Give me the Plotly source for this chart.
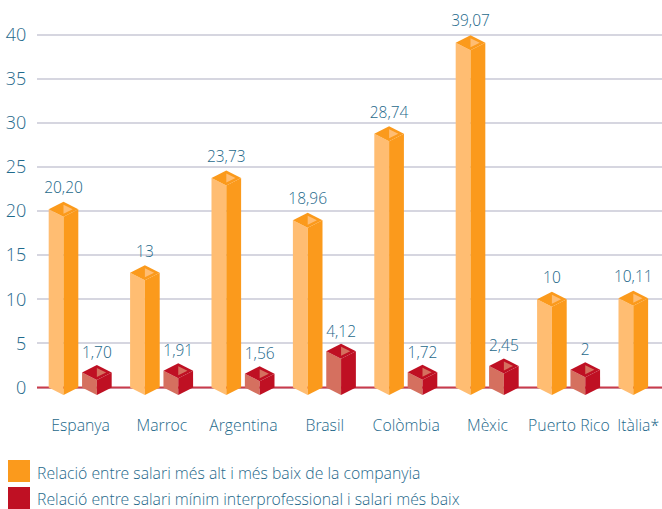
import plotly.graph_objects as go

categories = ["Espanya", "Marroc", "Argentina", "Brasil", "Colòmbia", "Mèxic", "Puerto Rico", "Itàlia*"]
company_ratio = [20.20, 13, 23.73, 18.96, 28.74, 39.07, 10, 10.11]
company_labels = ["20,20", "13", "23,73", "18,96", "28,74", "39,07", "10", "10,11"]
minimum_ratio = [1.70, 1.91, 1.56, 4.12, 1.72, 2.45, 2, None]
minimum_labels = ["1,70", "1,91", "1,56", "4,12", "1,72", "2,45", "2", ""]
y_ticks = [0, 5, 10, 15, 20, 25, 30, 35, 40]
legend_names = ["Relació entre salari més alt i més baix de la companyia",
                "Relació entre salari mínim interprofessional i salari més baix"]

W, H = 662, 509
TEXT = "#1f6a8c"
FONT = "Open Sans Light, Open Sans, sans-serif"
ORANGE, ORANGE_L = "#fb9a1c", "#ffbd72"
RED, RED_L = "#bf1023", "#d5705f"
HW, DEPTH = 0.182, 0.85      # half width (category units), iso depth (value units)
RED_SHIFT = 0.41
X_RANGE = [(37 - 63.5) / 81.4, (662 - 63.5) / 81.4]

fig = go.Figure()

# red baseline, above the grid and behind the bars
fig.add_trace(go.Scatter(x=X_RANGE, y=[0, 0], mode="lines", line=dict(color="#c93b4b", width=2),
                         hoverinfo="skip", showlegend=False))


def poly(xs, ys, color):
    fig.add_trace(go.Scatter(x=xs + xs[:1], y=ys + ys[:1], mode="lines", fill="toself",
                             fillcolor=color, line=dict(color=color, width=0),
                             hoverinfo="skip", showlegend=False))


def prism(cx, v, dark, light):
    poly([cx - HW, cx, cx, cx - HW], [v, v - DEPTH, -DEPTH, 0], light)
    poly([cx, cx + HW, cx + HW, cx], [v - DEPTH, v, 0, -DEPTH], dark)
    poly([cx - HW, cx, cx + HW, cx], [v, v + DEPTH, v, v - DEPTH], dark)
    poly([cx, cx + HW * 0.62, cx], [v + DEPTH * 0.6, v, v - DEPTH * 0.6], light)


for i, v in enumerate(company_ratio):
    prism(i, v, ORANGE, ORANGE_L)
for i, v in enumerate(minimum_ratio):
    if v is not None:
        prism(i + RED_SHIFT, v, RED, RED_L)

label_font = dict(family=FONT, size=15.5, color=TEXT)
fig.add_trace(go.Scatter(x=list(range(8)), y=[v + 1.4 for v in company_ratio], mode="text",
                         text=company_labels, textposition="top center",
                         textfont=label_font, hoverinfo="skip", showlegend=False))
fig.add_trace(go.Scatter(x=[i + RED_SHIFT for i, v in enumerate(minimum_ratio) if v is not None],
                         y=[v + 1.2 for v in minimum_ratio if v is not None], mode="text",
                         text=[t for t in minimum_labels if t], textposition="top center",
                         textfont=label_font, hoverinfo="skip", showlegend=False))

PLOT_W, PLOT_H = W - 37, 405
shapes = []
for y0, color in zip((460, 487), (ORANGE, RED)):
    shapes.append(dict(type="rect", xref="paper", yref="paper", layer="above",
                       x0=(8 - 37) / PLOT_W, x1=(30 - 37) / PLOT_W,
                       y0=(PLOT_H - y0) / PLOT_H, y1=(PLOT_H - y0 - 22) / PLOT_H,
                       fillcolor=color, line_width=0))

annotations = [dict(text=name, xref="paper", yref="paper", showarrow=False,
                    x=0, y=(PLOT_H - yc) / PLOT_H, xanchor="left", yanchor="middle", xshift=-2,
                    font=dict(family=FONT, size=15.8, color=TEXT))
               for name, yc in zip(legend_names, (473, 499))]

tick_pos = [i + 0.21 for i in range(7)] + [7.06]
fig.update_layout(
    width=W, height=H, margin=dict(l=37, r=0, t=0, b=H - PLOT_H),
    paper_bgcolor="white", plot_bgcolor="white", showlegend=False,
    font=dict(family=FONT, color=TEXT),
    shapes=shapes, annotations=annotations,
    xaxis=dict(range=X_RANGE, showgrid=False, zeroline=False,
               tickmode="array", tickvals=tick_pos, ticktext=categories,
               ticks="outside", ticklen=6, tickcolor="rgba(0,0,0,0)", showline=False,
               tickfont=dict(family=FONT, size=15.8, color=TEXT)),
    yaxis=dict(range=[(PLOT_H - 387.5) / -8.825, 387.5 / 8.825], tickmode="array", tickvals=y_ticks,
               showgrid=True, gridcolor="#d6d6e0", gridwidth=2, zeroline=False,
               ticks="outside", ticklen=6, tickcolor="rgba(0,0,0,0)", showline=False,
               tickfont=dict(family=FONT, size=18, color=TEXT)),
)
fig.write_html("out.html", config=dict(displayModeBar=False),
               post_script="document.body.style.margin='0';")
